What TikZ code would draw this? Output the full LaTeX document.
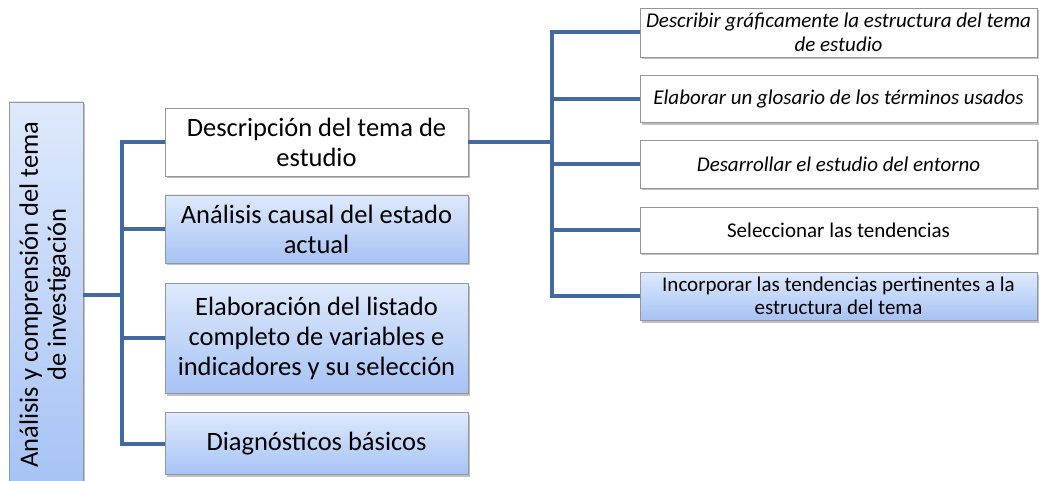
\documentclass[tikz,border=0pt]{standalone}
\usepackage{fontspec}
\setmainfont{Carlito}
\usetikzlibrary{shadows}

\definecolor{lineblue}{RGB}{67,106,160}
\definecolor{boxtop}{RGB}{222,233,252}
\definecolor{boxbot}{RGB}{166,195,245}
\definecolor{boxline}{RGB}{150,150,150}

\begin{document}
\begin{tikzpicture}[x=1pt, y=-1pt,
    conn/.style={line width=4pt, lineblue},
    basebox/.style={draw=boxline, line width=0.8pt, align=center, inner sep=1pt,
        drop shadow={shadow xshift=2pt, shadow yshift=-2.5pt, fill=black!45, opacity=.55}},
    whitebox/.style={basebox, fill=white},
    bluebox/.style={basebox, top color=boxtop, bottom color=boxbot},
    bigtext/.style={font=\fontsize{26.5}{30}\selectfont},
    smalltext/.style={font=\fontsize{21}{23.5}\selectfont}
  ]

    % Page size
    \useasboundingbox (0,0) rectangle (1039,481);

    % Columns
    \def\xroot{46}
    \def\xmid{316.5}
    \def\xright{838.5}
    \def\xtl{122}
    \def\xtr{552}

    % Root box
    \node[bluebox, bigtext, minimum width=74pt, minimum height=385pt, inner sep=0pt] (root) at (\xroot,294.5)
        {\rotatebox{90}{\begin{tabular}{@{}c@{}}An\'alisis y comprensi\'on del tema\\[-2pt]de investigaci\'on\end{tabular}}};

    % Middle column
    \node[whitebox, bigtext, minimum width=303pt, minimum height=68pt] (desc) at (\xmid,142)
        {Descripci\'on del tema de\\estudio};
    \node[bluebox, bigtext, minimum width=303pt, minimum height=68pt] (causal) at (\xmid,229)
        {An\'alisis causal del estado\\actual};
    \node[bluebox, bigtext, minimum width=303pt, minimum height=110pt] (listado) at (\xmid,338)
        {Elaboraci\'on del listado\\completo de variables e\\indicadores y su selecci\'on};
    \node[bluebox, bigtext, minimum width=303pt, minimum height=62pt] (diag) at (\xmid,443.5)
        {Diagn\'osticos b\'asicos};

    % Right column
    \node[whitebox, smalltext, minimum width=397pt, minimum height=49pt] (graf) at (\xright,32.5)
        {\itshape Describir gr\'aficamente la estructura del tema\\\itshape de estudio};
    \node[whitebox, smalltext, minimum width=397pt, minimum height=47pt] (glos) at (\xright,99)
        {\itshape Elaborar un glosario de los t\'erminos usados};
    \node[whitebox, smalltext, minimum width=397pt, minimum height=48pt] (ento) at (\xright,164)
        {\itshape Desarrollar el estudio del entorno};
    \node[whitebox, smalltext, minimum width=397pt, minimum height=46pt] (tend) at (\xright,230)
        {Seleccionar las tendencias};
    \node[bluebox, smalltext, minimum width=397pt, minimum height=48pt] (inco) at (\xright,296)
        {Incorporar las tendencias pertinentes a la\\estructura del tema};

    % Trunks
    \coordinate (tl) at (\xtl,0);
    \coordinate (tr) at (\xtr,0);

    % Left connectors
    \draw[conn] (root.east) -- (tl |- root.east);
    \draw[conn, line cap=rect] (tl |- desc.west) -- (tl |- diag.west);
    \foreach \n in {desc, causal, listado, diag}
        \draw[conn] (tl |- \n.west) -- (\n.west);

    % Right connectors
    \draw[conn] (desc.east) -- (tr |- desc.east);
    \draw[conn, line cap=rect] (tr |- graf.west) -- (tr |- inco.west);
    \foreach \n in {graf, glos, ento, tend, inco}
        \draw[conn] (tr |- \n.west) -- (\n.west);

\end{tikzpicture}
\end{document}
